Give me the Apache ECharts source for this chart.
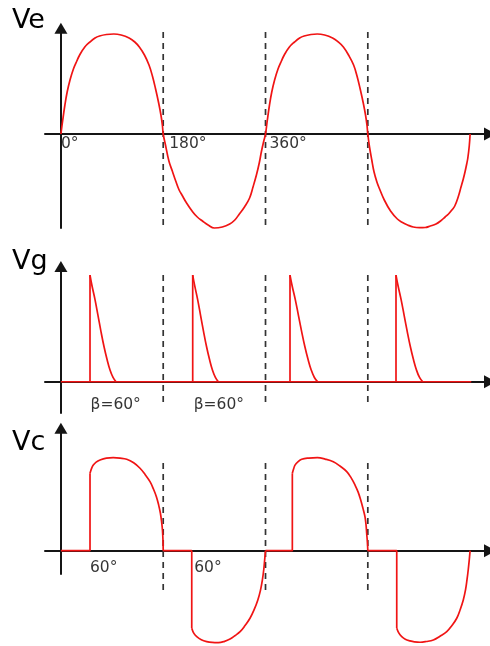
<!DOCTYPE html>
<html>
<head>
<meta charset="utf-8">
<script src="https://cdn.jsdelivr.net/npm/echarts@6/dist/echarts.min.js"></script>
<style>
  html, body { margin: 0; padding: 0; background: #fff; }
  #chart { width: 490px; height: 646px; }
</style>
</head>
<body>
<div id="chart"></div>
<script>
// Phase angle (degrees) shared by the three traces
const angleMin = -28;
const angleMax = 755;
const dashAngles = [180, 360, 540];
const veAngleLabels = [0, 180, 360];

// Ve: source voltage (normalised), [angle, value]
const vePoints = [
  [0, 0], [3, 0.13], [7, 0.29], [11, 0.42], [16, 0.54], [22, 0.65], [28, 0.73], [33, 0.79],
  [42, 0.87], [51, 0.92], [60, 0.96], [68, 0.98], [80, 0.995], [93, 1.0], [106, 0.99], [120, 0.96],
  [130, 0.92], [138, 0.87], [147, 0.79], [155, 0.69], [161, 0.58], [167, 0.44], [172, 0.31],
  [176, 0.19], [178.5, 0.09], [180, 0],
  [184, -0.11], [190, -0.27], [196, -0.37], [202, -0.47], [208, -0.56], [214, -0.62], [220, -0.68],
  [232, -0.78], [240, -0.83], [249, -0.87], [259, -0.91], [270, -0.94], [284, -0.93], [297, -0.9],
  [306, -0.86], [314, -0.8], [323, -0.73], [332, -0.64], [338, -0.53], [344, -0.41], [349, -0.29],
  [353, -0.17], [357, -0.07], [360, 0],
  [363, 0.13], [367, 0.29], [371, 0.42], [376, 0.54], [382, 0.65], [388, 0.73], [393, 0.79],
  [402, 0.87], [411, 0.92], [420, 0.96], [428, 0.98], [440, 0.995], [451, 1.0], [464, 0.99],
  [478, 0.96], [488, 0.92], [497, 0.87], [506, 0.79], [515, 0.69], [521, 0.58], [527, 0.44],
  [532, 0.31], [536, 0.19], [538.5, 0.09], [540, 0],
  [543, -0.13], [547, -0.26], [551, -0.38], [556, -0.48], [560, -0.54], [569, -0.66], [580, -0.77],
  [592, -0.85], [601, -0.885], [610, -0.91], [620, -0.93], [631, -0.937], [641, -0.935], [650, -0.92],
  [660, -0.9], [668, -0.87], [676, -0.83], [682, -0.8], [688, -0.76], [693, -0.72], [699, -0.63],
  [704, -0.53], [708, -0.45], [711, -0.38], [714, -0.3], [716, -0.24], [718.5, -0.12], [720, 0]
];

// Vg: gate pulses
const vgBaseline = [[0, 0], [722, 0]];
const vgPulse1 = [[51.2, 1], [54.7, 0.9], [60, 0.77], [65.3, 0.62], [70.5, 0.47], [75.8, 0.33], [81.1, 0.21], [86.4, 0.11], [91.7, 0.04], [97, 0]];
const vgPulse2 = [[231.9, 1], [235.4, 0.9], [240.6, 0.77], [245.8, 0.62], [251, 0.47], [256.2, 0.33], [261.4, 0.21], [266.6, 0.11], [271.8, 0.04], [277, 0]];
const vgPulse3 = [[403.1, 1], [406.8, 0.9], [412.4, 0.77], [418, 0.62], [423.6, 0.47], [429.2, 0.33], [434.8, 0.21], [440.4, 0.11], [446, 0.04], [451.8, 0]];
const vgPulse4 = [[589.6, 1], [593.2, 0.9], [598.6, 0.77], [604, 0.62], [609.4, 0.47], [614.8, 0.33], [620.2, 0.21], [625.6, 0.11], [631, 0.04], [636.6, 0]];
const vgPulses = [vgPulse1, vgPulse2, vgPulse3, vgPulse4];
const vgLabelText = 'β=60°';

// Vc: load voltage, one conducting lobe per half cycle
const vcLobe1 = [[51.2, 0.832], [54, 0.885], [57, 0.92], [62, 0.952], [68.8, 0.975], [80, 0.995], [92, 1.0],
  [104, 0.995], [115.8, 0.983], [128, 0.945], [139.2, 0.886], [148, 0.82], [156.8, 0.742], [163, 0.66],
  [168, 0.58], [172, 0.49], [175, 0.405], [177.2, 0.31], [178.7, 0.22], [179.6, 0.11], [180, 0]];
const vcLobe2 = [[230.2, -0.834], [234, -0.89], [239, -0.925], [247, -0.958], [256.5, -0.978], [266, -0.987],
  [277, -0.989], [288, -0.975], [297.6, -0.95], [306, -0.915], [315.3, -0.871], [324, -0.805], [332.7, -0.727],
  [340, -0.635], [346.5, -0.53], [351, -0.43], [354.5, -0.315], [357, -0.2], [358.5, -0.1], [360, 0]];
const vcLobe3 = [[407.2, 0.832], [409.5, 0.88], [411.9, 0.92], [417, 0.955], [423.7, 0.983], [436, 0.996],
  [451.2, 1.0], [465, 0.985], [479.3, 0.957], [491, 0.91], [502.9, 0.85], [510.5, 0.785], [517.5, 0.706],
  [523, 0.63], [527.5, 0.545], [531.5, 0.455], [535, 0.366], [537, 0.27], [538, 0.187], [539.3, 0.09], [540, 0]];
const vcLobe4 = [[590.9, -0.834], [595, -0.89], [599.7, -0.925], [606, -0.953], [614.3, -0.97], [622, -0.98],
  [631.9, -0.985], [643, -0.977], [655.3, -0.96], [667, -0.92], [678.9, -0.87], [688, -0.805], [696.5, -0.727],
  [702.5, -0.635], [708, -0.53], [712, -0.42], [714.5, -0.315], [716.8, -0.2], [718.5, -0.1], [720, 0]];
const vcLobes = [vcLobe1, vcLobe2, vcLobe3, vcLobe4];
const vcLabelText = '60°';

// ---- layout & styling ----
const RED = '#f01414';
const AXIS = '#151515';
const FONT = '"DejaVu Sans", sans-serif';

const grids = [
  { left: 45, width: 445, top: 28.2, height: 199.8 },
  { left: 45, width: 445, top: 266.5, height: 146.5 },
  { left: 45, width: 445, top: 428.2, height: 145.8 }
];
const yRanges = [[-0.94, 1.058], [-0.293, 1.08], [-0.251, 1.317]];
const dashSpans = [[1.02, -0.96], [1.0, -0.2], [0.943, -0.444]];
const titles = [
  { text: 'Ve', y: 21 },
  { text: 'Vg', y: 262 },
  { text: 'Vc', y: 443 }
];
const veLabelShift = [0, 6, 4];

const xAxes = grids.map((g, i) => ({
  type: 'value', gridIndex: i, min: angleMin, max: angleMax,
  axisLine: { onZero: true, symbol: ['none', 'triangle'], symbolSize: [13, 12], lineStyle: { color: AXIS, width: 2 } },
  axisTick: { show: false }, axisLabel: { show: false }, splitLine: { show: false }
}));
const yAxes = grids.map((g, i) => ({
  type: 'value', gridIndex: i, min: yRanges[i][0], max: yRanges[i][1],
  axisLine: { onZero: true, symbol: ['none', 'triangle'], symbolSize: [13, 11], lineStyle: { color: AXIS, width: 2 } },
  axisTick: { show: false }, axisLabel: { show: false }, splitLine: { show: false }
}));

function redLine(panel, data, smooth) {
  return {
    type: 'line', xAxisIndex: panel, yAxisIndex: panel, data: data,
    smooth: smooth, symbol: 'none', clip: false, z: 4,
    lineStyle: { color: RED, width: 1.7 }
  };
}

function labelSeries(panel, anchors, texts, shifts, dy) {
  return {
    type: 'scatter', xAxisIndex: panel, yAxisIndex: panel, symbolSize: 0, z: 5,
    itemStyle: { color: 'transparent' },
    data: anchors.map((a, k) => ({
      value: [a, 0],
      label: { formatter: texts[k], position: [shifts[k], dy] }
    })),
    label: {
      show: true, align: 'left', verticalAlign: 'middle',
      fontSize: 15.5, fontFamily: FONT, color: '#000'
    }
  };
}

const series = [];

// dashed guides at the half-cycle boundaries
grids.forEach((g, i) => {
  dashAngles.forEach(a => {
    series.push({
      type: 'line', xAxisIndex: i, yAxisIndex: i, symbol: 'none', clip: false, z: 3,
      data: [[a, dashSpans[i][0]], [a, dashSpans[i][1]]],
      lineStyle: { color: '#333', width: 1.7, type: [6, 5] }
    });
  });
});

// Ve
series.push(redLine(0, vePoints, 0.4));

// Vg: baseline, then a vertical edge and decay for every pulse
series.push(redLine(1, vgBaseline, false));
vgPulses.forEach(p => {
  series.push(redLine(1, [[p[0][0], 0], p[0]], false));
  series.push(redLine(1, p, 0.4));
});

// Vc: off interval (flat), firing edge, conducting lobe
vcLobes.forEach((lobe, k) => {
  const prevEnd = k === 0 ? 0 : vcLobes[k - 1][vcLobes[k - 1].length - 1][0];
  series.push(redLine(2, [[prevEnd, 0], [lobe[0][0], 0], lobe[0]], false));
  series.push(redLine(2, lobe, 0.4));
});

// angle annotations
series.push(labelSeries(0, veAngleLabels, veAngleLabels.map(a => a + '°'), veLabelShift, 10));
series.push(labelSeries(1, [vgPulse1[0][0], vgPulse2[0][0]], [vgLabelText, vgLabelText], [0.5, 1], 23.5));
series.push(labelSeries(2, [vcLobe1[0][0], vcLobe2[0][0]], [vcLabelText, vcLabelText], [0, 2.5], 17.5));

const chart = echarts.init(document.getElementById('chart'), null, { renderer: 'canvas' });
chart.setOption({
  animation: false,
  backgroundColor: '#fff',
  grid: grids,
  xAxis: xAxes,
  yAxis: yAxes,
  series: series,
  graphic: titles.map(t => ({
    type: 'text', left: 12, top: t.y - 14, silent: true,
    style: { text: t.text, fill: '#000', font: '27px ' + FONT }
  }))
});
</script>
</body>
</html>
